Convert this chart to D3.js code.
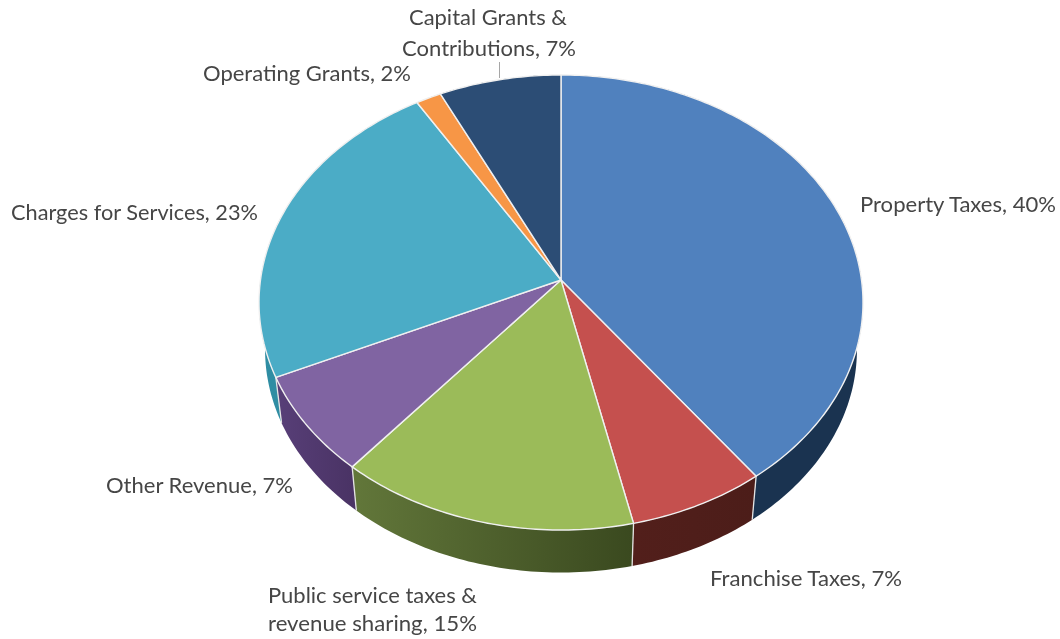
<!DOCTYPE html>
<html><head><meta charset="utf-8">
<style>html,body{margin:0;padding:0;background:#fff}svg{display:block;filter:blur(.45px)}text{font-family:Lato,sans-serif;font-size:22px;fill:#464646;text-anchor:middle}</style>
<script src="https://cdn.jsdelivr.net/npm/d3@7"></script></head><body><svg id="c" width="1060" height="639"></svg>
<script>
const categories=["Property Taxes","Franchise Taxes","Public service taxes & revenue sharing","Other Revenue","Charges for Services","Operating Grants","Capital Grants & Contributions"];
const values=[39.8,6.7,14.6,7.1,23.1,1.5,7.2];
const shownPercent=[40,7,15,7,23,2,7];
const topColors=["#5081be","#c5504e","#9bbb59","#8064a2","#4bacc6","#f79646","#2c4d75"];
const wallFrom=["#1a3350","#521f1b","#62773a","#583f78","#2f8da3","#a8601f","#1c3350"];
const wallTo=["#1a3350","#4c1d19","#3a491f","#4a3365","#2f8da3","#a8601f","#1c3350"];

const svg=d3.select("#c"),W=1060,H=639;
const cx=561,cy=280,A=225.3,B=300.5,k=.0989,sc=.98,drop=47.5;
const persp=(a)=>{const u=Math.sin(a),v=-Math.cos(a),q=1-k*v;return [B*u/q,A*v/q];};
const rimTop=a=>{const p=persp(a);return [cx+p[0],cy+p[1]];};
const rimLow=a=>{const p=persp(a);return [cx+sc*p[0],cy+drop+sc*p[1]];};
const line=d3.line();
const pie=d3.pie().sort(null).value(d=>d)(values);
const samples=(a,b)=>{const n=Math.max(2,Math.ceil((b-a)*60));return d3.range(n+1).map(i=>a+(b-a)*i/n);};

const defs=svg.append("defs");
pie.forEach((d,i)=>{
  const g=defs.append("linearGradient").attr("id","w"+i).attr("gradientUnits","userSpaceOnUse");
  const xs=samples(d.startAngle,d.endAngle).map(a=>rimTop(a)[0]);
  g.attr("x1",d3.min(xs)).attr("x2",d3.max(xs)).attr("y1",0).attr("y2",0);
  g.append("stop").attr("offset",0).attr("stop-color",wallFrom[i]);
  g.append("stop").attr("offset",1).attr("stop-color",wallTo[i]);
});

// walls
svg.append("g").selectAll("path").data(pie).join("path")
  .attr("d",d=>{const s=samples(d.startAngle,d.endAngle);return line(s.map(rimTop).concat(s.slice().reverse().map(rimLow)))+"Z";})
  .attr("fill",(d,i)=>`url(#w${i})`);
// wall seams on the visible front edges
svg.append("g").selectAll("line").data(pie.slice(0,4)).join("line")
  .attr("x1",d=>rimTop(d.endAngle)[0]).attr("y1",d=>rimTop(d.endAngle)[1])
  .attr("x2",d=>rimLow(d.endAngle)[0]).attr("y2",d=>rimLow(d.endAngle)[1])
  .attr("stroke","#e4e4e4").attr("stroke-width",1.3);
// tops
svg.append("g").selectAll("path").data(pie).join("path")
  .attr("d",d=>line([[cx,cy]].concat(samples(d.startAngle,d.endAngle).map(rimTop)))+"Z")
  .attr("fill",(d,i)=>topColors[i]).attr("stroke","#f0f0f0").attr("stroke-width",1.4).attr("stroke-linejoin","round");

// leader
svg.append("line").attr("x1",499.5).attr("x2",499.5).attr("y1",62).attr("y2",78).attr("stroke","#a6a6a6").attr("stroke-width",1);

const lab=(i)=>`, ${shownPercent[i]}%`;
const placements=[
 [958,212,196,categories[0]+lab(0)],
 [806,586,192,categories[1]+lab(1)],
 [372.5,603,209,"Public service taxes &"],
 [372.5,631,209,"revenue sharing"+lab(2)],
 [199.5,493,187,categories[3]+lab(3)],
 [134.5,220,247,categories[4]+lab(4)],
 [307,81,208,categories[5]+lab(5)],
 [488,25,158,"Capital Grants &"],
 [489,56,174,"Contributions"+lab(6)]
];
svg.append("g").selectAll("text").data(placements).join("text")
  .attr("x",d=>d[0]).attr("y",d=>d[1])
  .attr("textLength",d=>d[2]).attr("lengthAdjust","spacingAndGlyphs").text(d=>d[3]);
</script></body></html>
